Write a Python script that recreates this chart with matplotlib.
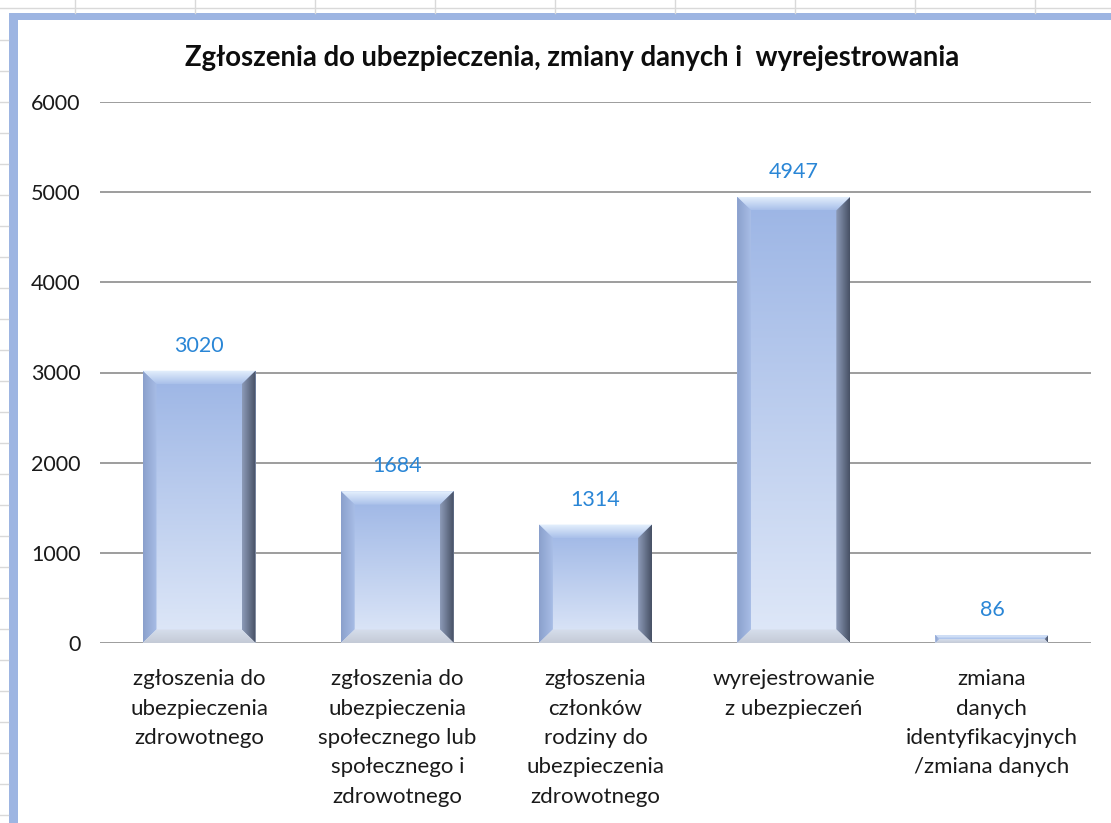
"""
Zgłoszenia do ubezpieczenia - wykres słupkowy w stylu Excela
"""
import matplotlib
matplotlib.use('Agg')
import matplotlib.pyplot as plt
import numpy as np
from matplotlib.patches import Polygon, Rectangle
from matplotlib.lines import Line2D

categories = [
    "zgłoszenia do\nubezpieczenia\nzdrowotnego",
    "zgłoszenia do\nubezpieczenia\nspołecznego lub\nspołecznego i\nzdrowotnego",
    "zgłoszenia\nczłonków\nrodziny do\nubezpieczenia\nzdrowotnego",
    "wyrejestrowanie\nz ubezpieczeń",
    "zmiana\ndanych\nidentyfikacyjnych\n/zmiana danych",
]
values = [3020, 1684, 1314, 4947, 86]
yticks = [0, 1000, 2000, 3000, 4000, 5000, 6000]
title = "Zgłoszenia do ubezpieczenia, zmiany danych i  wyrejestrowania"

plt.rcParams['font.family'] = ['Lato', 'DejaVu Sans']

W, H = 1111, 823
fig = plt.figure(figsize=(W / 100, H / 100), dpi=100)
fig.patch.set_facecolor('white')


def fx(px):
    return px / W


def fy(py):
    return 1 - py / H


# tło arkusza: siatka komórek poza ramką wykresu
fig.add_artist(Line2D([0, 1], [fy(8), fy(8)], color='#d9d9d9', lw=1, transform=fig.transFigure))
for x in range(75, W, 120):
    fig.add_artist(Line2D([fx(x), fx(x)], [fy(0), fy(13)], color='#d9d9d9', lw=1,
                          transform=fig.transFigure))
for y in range(40, H, 31):
    fig.add_artist(Line2D([0, fx(8)], [fy(y), fy(y)], color='#d9d9d9', lw=1,
                          transform=fig.transFigure))

# ramka wykresu
fig.add_artist(Rectangle((fx(9), 0), 1, fy(13), facecolor='#9db5e2', edgecolor='none',
                         transform=fig.transFigure, zorder=1))
fig.add_artist(Rectangle((fx(18), 0), 1, fy(20), facecolor='white', edgecolor='none',
                         transform=fig.transFigure, zorder=1))

ax = fig.add_axes([fx(100), fy(643), fx(1091) - fx(100), fy(102) - fy(643)])
ax.set_zorder(2)
ax.patch.set_alpha(0)

x = np.arange(len(values))
width = 0.57
ax.set_xlim(-0.5, len(values) - 0.5)
ax.set_ylim(0, 6000)

for t in yticks:
    ax.axhline(t, color='#8c8c8c', lw=1.2, zorder=1)


def grad_fill(ax, pts, c0, c1, horizontal=False):
    pts = np.asarray(pts)
    x0, x1 = pts[:, 0].min(), pts[:, 0].max()
    y0, y1 = pts[:, 1].min(), pts[:, 1].max()
    c0 = np.array(matplotlib.colors.to_rgb(c0))
    c1 = np.array(matplotlib.colors.to_rgb(c1))
    t = np.linspace(0, 1, 64)
    cols = c0[None, :] * (1 - t[:, None]) + c1[None, :] * t[:, None]
    if horizontal:
        img = cols[None, :, :]
    else:
        img = cols[::-1][:, None, :]
    poly = Polygon(pts, closed=True, facecolor='none', edgecolor='none')
    ax.add_patch(poly)
    im = ax.imshow(img, extent=(x0, x1, y0, y1), aspect='auto', origin='upper',
                   interpolation='bilinear', zorder=3)
    im.set_clip_path(poly)


for xi, v in zip(x, values):
    l, r = xi - width / 2, xi + width / 2
    bx = 0.07
    by = min(150, v / 2)
    bxx = bx if v >= 300 else bx * by / 150
    # główny gradient
    grad_fill(ax, [(l, 0), (r, 0), (r, v), (l, v)], '#dfe8f8', '#9cb5e5')
    # górna faza
    grad_fill(ax, [(l, v), (r, v), (r - bxx, v - by), (l + bxx, v - by)], '#a9c0ea', '#e6f1fd')
    # lewa faza
    grad_fill(ax, [(l, 0), (l + bxx, by), (l + bxx, v - by), (l, v)], '#8aa0cc', '#a8bde6',
              horizontal=True)
    # prawa faza
    grad_fill(ax, [(r, 0), (r, v), (r - bxx, v - by), (r - bxx, by)], '#8d9bb8', '#465064',
              horizontal=True)
    # dolna faza
    grad_fill(ax, [(l, 0), (r, 0), (r - bxx, by), (l + bxx, by)], '#c4cad6', '#d6deec')
    ax.annotate(f"{v}", (xi, v), xytext=(0, 18), textcoords='offset points',
                ha='center', va='center', fontsize=15.5, color='#2a86d6')

ax.set_xticks(x)
ax.set_xticklabels(categories, fontsize=16, color='#1a1a1a', linespacing=1.58)
ax.set_yticks(yticks)
ax.set_yticklabels([str(t) for t in yticks], fontsize=15.5, color='#1a1a1a')
ax.tick_params(axis='both', length=0)
ax.tick_params(axis='y', pad=14)
ax.tick_params(axis='x', pad=19)
for s in ax.spines.values():
    s.set_visible(False)

fig.text(fx(572), fy(58), title, ha='center', va='center', fontsize=19.8,
         fontweight='bold', color='#0d0d0d')

fig.savefig('out.png', dpi=100)
plt.close(fig)
